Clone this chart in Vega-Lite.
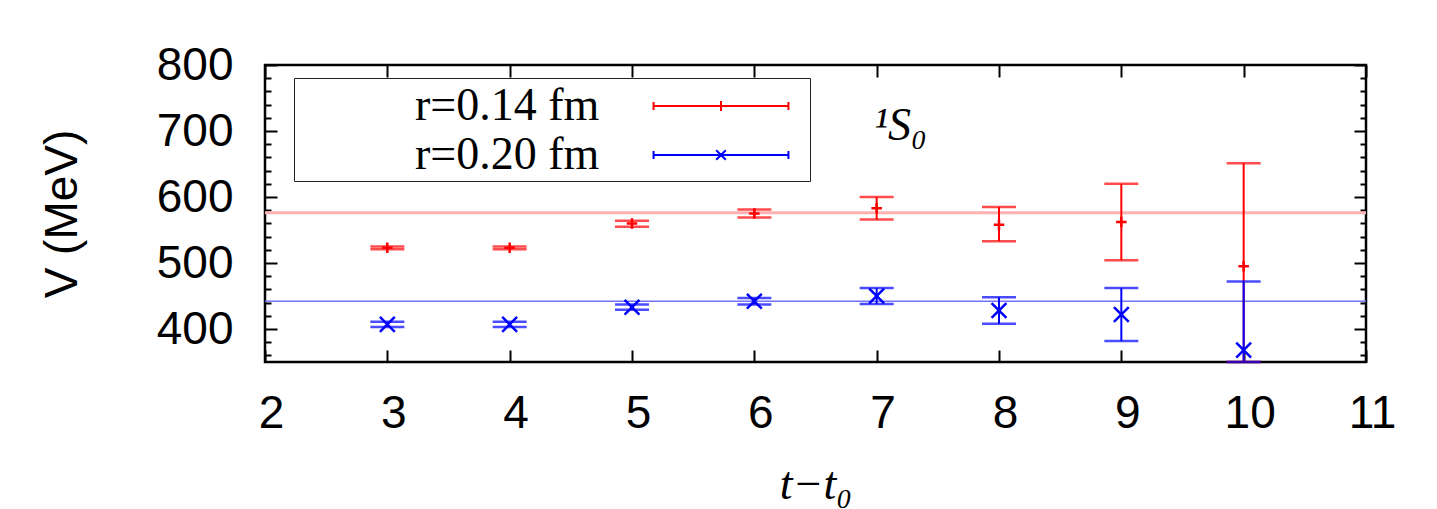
{
  "$schema": "https://vega.github.io/schema/vega-lite/v6.json",
  "width": 1101,
  "height": 297,
  "autosize": {"type": "none"},
  "padding": {"left": 265, "top": 65, "right": 71, "bottom": 147},
  "background": "white",
  "config": {
    "view": {"stroke": "black", "strokeWidth": 2.5},
    "font": "Liberation Sans",
    "axis": {"tickColor": "black", "tickWidth": 2, "grid": false, "domain": false, "labelColor": "black", "titleColor": "black"},
    "legend": {
      "orient": "none", "legendX": 29, "legendY": 13, "title": null,
      "direction": "vertical",
      "strokeColor": "#222222", "fillColor": "white", "padding": 3,
      "labelFont": "Liberation Serif", "labelFontSize": 46, "labelLimit": 500, "labelColor": "black",
      "symbolSize": 2304, "symbolStrokeWidth": 2,
      "symbolOffset": 399, "labelOffset": -331, "rowPadding": 1
    }
  },
  "datasets": {
    "pts": [
      {"series": "r=0.14 fm", "t": 3, "v": 523, "lo": 521, "hi": 525},
      {"series": "r=0.14 fm", "t": 4, "v": 523, "lo": 521, "hi": 525},
      {"series": "r=0.14 fm", "t": 5, "v": 560, "lo": 555, "hi": 564},
      {"series": "r=0.14 fm", "t": 6, "v": 575, "lo": 569, "hi": 581},
      {"series": "r=0.14 fm", "t": 7, "v": 583, "lo": 566, "hi": 600},
      {"series": "r=0.14 fm", "t": 8, "v": 558, "lo": 533, "hi": 585},
      {"series": "r=0.14 fm", "t": 9, "v": 562, "lo": 504, "hi": 620},
      {"series": "r=0.14 fm", "t": 10, "v": 495, "lo": 339, "hi": 651},
      {"series": "r=0.20 fm", "t": 3, "v": 407, "lo": 403, "hi": 411},
      {"series": "r=0.20 fm", "t": 4, "v": 407, "lo": 403, "hi": 411},
      {"series": "r=0.20 fm", "t": 5, "v": 433, "lo": 429, "hi": 437},
      {"series": "r=0.20 fm", "t": 6, "v": 442, "lo": 437, "hi": 447},
      {"series": "r=0.20 fm", "t": 7, "v": 450, "lo": 438, "hi": 462},
      {"series": "r=0.20 fm", "t": 8, "v": 428, "lo": 408, "hi": 448},
      {"series": "r=0.20 fm", "t": 9, "v": 422, "lo": 382, "hi": 462},
      {"series": "r=0.20 fm", "t": 10, "v": 368, "lo": 264, "hi": 472}
    ],
    "lines": [
      {"series": "r=0.14 fm", "v": 576},
      {"series": "r=0.20 fm", "v": 442}
    ],
    "ann": [{"label": "¹S₀"}],
    "none": []
  },
  "resolve": {"axis": {"x": "independent", "y": "independent"}, "scale": {"color": "independent", "shape": "independent", "size": "independent"}},
  "layer": [
    {
      "data": {"name": "lines"},
      "mark": {"type": "rule"},
      "encoding": {
        "y": {"field": "v", "type": "quantitative",
          "scale": {"domain": [350, 800], "nice": false, "zero": false, "clamp": true},
          "axis": {"orient": "right", "offset": -12, "tickSize": 12, "values": [400, 500, 600, 700, 800], "labels": false, "title": null}},
        "color": {"field": "series", "type": "nominal",
          "scale": {"domain": ["r=0.14 fm", "r=0.20 fm"], "range": ["#ffb0b0", "#7272ff"]}, "legend": null},
        "strokeWidth": {"field": "series", "type": "nominal",
          "scale": {"domain": ["r=0.14 fm", "r=0.20 fm"], "range": [3, 1.6]}, "legend": null}
      }
    },
    {
      "data": {"name": "pts"},
      "mark": {"type": "rule", "strokeWidth": 2},
      "encoding": {
        "x": {"field": "t", "type": "quantitative",
          "scale": {"domain": [2, 11], "nice": false, "zero": false},
          "axis": {"orient": "bottom", "offset": -12, "tickSize": 12, "values": [2, 3, 4, 5, 6, 7, 8, 9, 10, 11],
            "labelFontSize": 46, "labelPadding": 29, "labelOffset": 6, "labelFlush": false,
            "title": "t−t₀", "titleFont": "Liberation Serif", "titleFontStyle": "italic", "titleFontWeight": "normal",
            "titleFontSize": 46, "titlePadding": 26}},
        "y": {"field": "lo", "type": "quantitative",
          "scale": {"domain": [350, 800], "nice": false, "zero": false, "clamp": true},
          "axis": {"orient": "left", "offset": -12, "tickSize": 12, "values": [400, 500, 600, 700, 800],
            "labelFontSize": 46, "labelPadding": 32,
            "title": "V (MeV)", "titleFontSize": 46, "titleFontWeight": "normal", "titlePadding": 70}},
        "y2": {"field": "hi"},
        "color": {"field": "series", "type": "nominal",
          "scale": {"domain": ["r=0.14 fm", "r=0.20 fm"], "range": ["#ff0000", "#0000ff"]}, "legend": null}
      }
    },
    {
      "data": {"name": "pts"},
      "mark": {"type": "tick", "orient": "horizontal", "size": 34, "thickness": 2.5},
      "encoding": {
        "x": {"field": "t", "type": "quantitative",
          "scale": {"domain": [2, 11], "nice": false, "zero": false},
          "axis": {"orient": "top", "offset": -12, "tickSize": 12, "values": [2, 3, 4, 5, 6, 7, 8, 9, 10, 11], "labels": false, "title": null}},
        "y": {"field": "lo", "type": "quantitative",
          "scale": {"domain": [350, 800], "nice": false, "zero": false, "clamp": true},
          "axis": {"orient": "left", "offset": -6, "tickSize": 6,
            "values": [360, 380, 420, 440, 460, 480, 520, 540, 560, 580, 620, 640, 660, 680, 720, 740, 760, 780],
            "labels": false, "title": null}},
        "color": {"field": "series", "type": "nominal",
          "scale": {"domain": ["r=0.14 fm", "r=0.20 fm"], "range": ["#ff0000", "#0000ff"]}, "legend": null}
      }
    },
    {
      "data": {"name": "pts"},
      "mark": {"type": "tick", "orient": "horizontal", "size": 34, "thickness": 2.5},
      "encoding": {
        "x": {"field": "t", "type": "quantitative",
          "scale": {"domain": [2, 11], "nice": false, "zero": false}, "axis": null},
        "y": {"field": "hi", "type": "quantitative",
          "scale": {"domain": [350, 800], "nice": false, "zero": false, "clamp": true},
          "axis": {"orient": "right", "offset": -6, "tickSize": 6,
            "values": [360, 380, 420, 440, 460, 480, 520, 540, 560, 580, 620, 640, 660, 680, 720, 740, 760, 780],
            "labels": false, "title": null}},
        "color": {"field": "series", "type": "nominal",
          "scale": {"domain": ["r=0.14 fm", "r=0.20 fm"], "range": ["#ff0000", "#0000ff"]}, "legend": null}
      }
    },
    {
      "data": {"name": "pts"},
      "mark": {"type": "point", "filled": false, "strokeWidth": 2.5, "opacity": 1},
      "encoding": {
        "x": {"field": "t", "type": "quantitative",
          "scale": {"domain": [2, 11], "nice": false, "zero": false}, "axis": null},
        "y": {"field": "v", "type": "quantitative",
          "scale": {"domain": [350, 800], "nice": false, "zero": false, "clamp": true}, "axis": null},
        "shape": {"field": "series", "type": "nominal",
          "scale": {"domain": ["r=0.14 fm", "r=0.20 fm"], "range": ["M-1,0L1,0M0,-1L0,1", "M-1,-1L1,1M-1,1L1,-1"]}, "legend": null},
        "size": {"field": "series", "type": "nominal",
          "scale": {"domain": ["r=0.14 fm", "r=0.20 fm"], "range": [110, 220]}, "legend": null},
        "color": {"field": "series", "type": "nominal",
          "scale": {"domain": ["r=0.14 fm", "r=0.20 fm"], "range": ["#ff0000", "#0000ff"]}, "legend": null}
      }
    },
    {
      "data": {"name": "none"},
      "mark": {"type": "point", "filled": false, "strokeWidth": 2, "opacity": 1},
      "encoding": {
        "x": {"field": "t", "type": "quantitative",
          "scale": {"domain": [2, 11], "nice": false, "zero": false}, "axis": null},
        "y": {"field": "v", "type": "quantitative",
          "scale": {"domain": [350, 800], "nice": false, "zero": false, "clamp": true}, "axis": null},
        "shape": {"field": "series", "type": "nominal",
          "scale": {"domain": ["r=0.14 fm", "r=0.20 fm"], "range": [
            "M-2.81,0L2.81,0M-2.81,-0.17L-2.81,0.17M2.81,-0.17L2.81,0.17M0,-0.21L0,0.21M3.4,0L3.4,0",
            "M-2.81,0L2.81,0M-2.81,-0.17L-2.81,0.17M2.81,-0.17L2.81,0.17M-0.2,-0.2L0.2,0.2M-0.2,0.2L0.2,-0.2M3.4,0L3.4,0"]}},
        "color": {"field": "series", "type": "nominal",
          "scale": {"domain": ["r=0.14 fm", "r=0.20 fm"], "range": ["#ff0000", "#0000ff"]}}
      }
    },
    {
      "data": {"name": "ann"},
      "mark": {"type": "text", "font": "Liberation Serif", "fontSize": 46, "fontStyle": "italic", "align": "left", "baseline": "alphabetic", "color": "black"},
      "encoding": {
        "x": {"datum": 6.98, "type": "quantitative",
          "scale": {"domain": [2, 11], "nice": false, "zero": false}, "axis": null},
        "y": {"datum": 686, "type": "quantitative",
          "scale": {"domain": [350, 800], "nice": false, "zero": false, "clamp": true}, "axis": null},
        "text": {"field": "label"}
      }
    }
  ]
}
